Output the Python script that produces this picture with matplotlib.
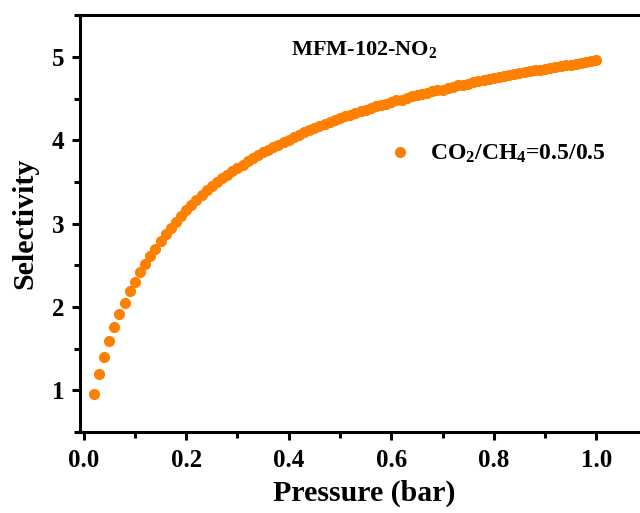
import numpy as np
import matplotlib
matplotlib.use('Agg')
import matplotlib.pyplot as plt
import matplotlib.ticker as mticker

plt.rcParams['font.family'] = 'Liberation Serif'
plt.rcParams['font.weight'] = 'bold'
plt.rcParams['mathtext.fontset'] = 'custom'
plt.rcParams['mathtext.rm'] = 'Liberation Serif:bold'
plt.rcParams['mathtext.bf'] = 'Liberation Serif:bold'
plt.rcParams['mathtext.it'] = 'Liberation Serif:bold'
plt.rcParams['mathtext.default'] = 'bf'

# pressure (bar) and CO2/CH4 selectivity
pressure = [round(0.02 + 0.01 * i, 2) for i in range(99)]
selectivity = [
    0.95, 1.19, 1.40, 1.59, 1.76, 1.92, 2.05, 2.19, 2.30, 2.42,
    2.52, 2.61, 2.70, 2.79, 2.87, 2.95, 3.02, 3.09, 3.16, 3.22,
    3.28, 3.34, 3.40, 3.45, 3.50, 3.55, 3.59, 3.63, 3.67, 3.71,
    3.75, 3.79, 3.82, 3.86, 3.89, 3.92, 3.95, 3.98, 4.01, 4.04,
    4.07, 4.10, 4.12, 4.15, 4.17, 4.20, 4.22, 4.24, 4.27, 4.29,
    4.31, 4.33, 4.35, 4.37, 4.39, 4.41, 4.43, 4.44, 4.46, 4.48,
    4.49, 4.51, 4.53, 4.54, 4.56, 4.57, 4.59, 4.60, 4.61, 4.63,
    4.64, 4.66, 4.67, 4.68, 4.70, 4.71, 4.72, 4.74, 4.75, 4.76,
    4.77, 4.78, 4.80, 4.81, 4.82, 4.83, 4.84, 4.85, 4.86, 4.87,
    4.88, 4.89, 4.90, 4.91, 4.92, 4.93, 4.94, 4.95, 4.97,
]
series_label = 'CO$_2$/CH$_4$=0.5/0.5'
sample_name = 'MFM-102-NO$_2$'

fig = plt.figure(figsize=(6.4, 5.13), dpi=100, facecolor='white')
# axes run past the right edge, like the cropped original
ax = fig.add_axes([0.125, 0.158, 0.887, 0.812])

ax.plot(pressure, selectivity, 'o', color='#FF7F00', markersize=8,
        markeredgewidth=0, label=series_label)

ax.set_xlim(-0.007, 1.1)
ax.set_ylim(0.5, 5.5)
ax.xaxis.set_major_locator(mticker.MultipleLocator(0.2))
ax.xaxis.set_minor_locator(mticker.MultipleLocator(0.1))
ax.yaxis.set_major_locator(mticker.MultipleLocator(1))
ax.yaxis.set_minor_locator(mticker.MultipleLocator(0.5))
ax.xaxis.set_major_formatter(mticker.FormatStrFormatter('%.1f'))

for sp in ax.spines.values():
    sp.set_linewidth(2.2)
ax.tick_params(which='major', direction='out', length=6, width=2.2,
               labelsize=18, pad=5)
ax.tick_params(which='minor', direction='out', length=4, width=2.2)
ax.tick_params(axis='x', which='major', pad=6)

ax.set_xlabel('Pressure (bar)', fontsize=21.5, fontweight='bold', labelpad=6)
ax.set_ylabel('Selectivity', fontsize=21.5, fontweight='bold', labelpad=10)

ax.text(0.405, 5.09, sample_name, fontsize=16, fontweight='bold',
        va='center', ha='left')

ax.legend(loc='center left', bbox_to_anchor=(0.505, 0.667), frameon=False,
          fontsize=17, handletextpad=0.8, handlelength=1.0, markerscale=1.0)

fig.savefig('out.png', dpi=100)
